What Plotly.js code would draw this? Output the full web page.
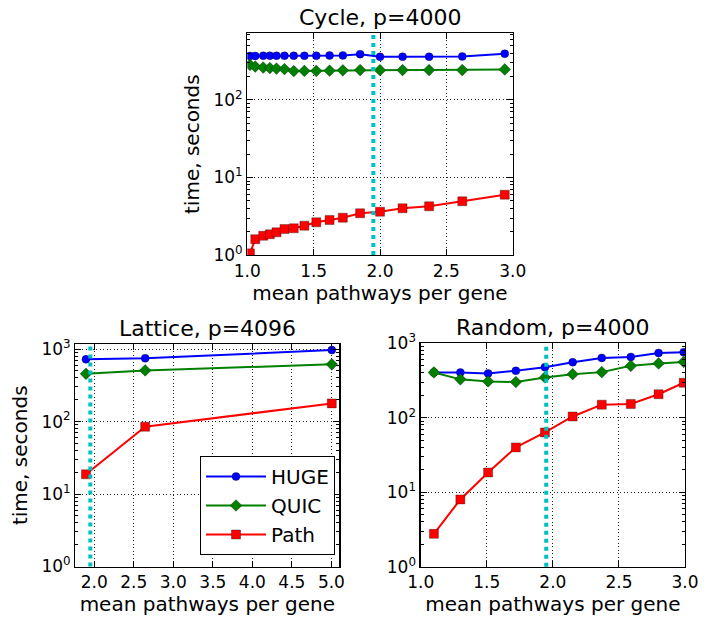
<!DOCTYPE html>
<html><head><meta charset="utf-8">
<script src="https://cdn.plot.ly/plotly-3.0.1.min.js"></script>
<style>body{margin:0;background:#fff}#chart{width:709px;height:623px}</style>
</head><body><div id="chart"></div>
<script>
const seriesNames = ['HUGE', 'QUIC', 'Path'];
const threshold = [1.95];

// Cycle, p=4000
const cycleX = [1.02,1.06,1.12,1.17,1.22,1.28,1.35,1.43,1.52,1.62,1.72,1.85,2.0,2.17,2.37,2.62,2.94];
const cycleHUGE = [370,370,372,372,372,372,372,372,372,375,376,390,360,362,362,365,395];
const cycleQUIC = [283,270,262,258,254,250,236,237,237,239,241,243,242,243,243,243,248];
const cyclePath = [1.05,1.6,1.77,1.85,1.96,2.16,2.21,2.39,2.64,2.83,3.03,3.45,3.62,4.01,4.25,4.93,6.0];

// Lattice, p=4096
const latticeX = [1.895, 2.644, 5.005];
const latticeHUGE = [721, 745, 968];
const latticeQUIC = [456, 508, 615];
const latticePath = [18.7, 84.8, 178];

// Random, p=4000
const randomX = [1.10,1.30,1.51,1.72,1.94,2.15,2.37,2.59,2.80,2.99];
const randomHUGE = [406,406,394,427,478,557,637,656,742,759];
const randomQUIC = [406,328,308,302,348,385,410,498,536,563];
const randomPath = [2.76,8.0,18.4,40,63.5,104,150,153,207,295];

const titles = ['Cycle, p=4000', 'Lattice, p=4096', 'Random, p=4000'];
const xTitle = 'mean pathways per gene';
const yTitle = 'time, seconds';
const yMajor = [1, 10, 100, 1000];
const yMajorText = ['10<sup>0</sup>', '10<sup>1</sup>', '10<sup>2</sup>', '10<sup>3</sup>'];
const yMinor = [2,3,4,5,6,7,8,9,20,30,40,50,60,70,80,90,200,300,400,500,600,700,800,900,2000];

const colors = ['#0000FF', '#008000', '#FF0000'];
const symbols = ['circle', 'diamond', 'square'];
const FONT = 'DejaVu Sans, sans-serif';

const panels = [
  {x: cycleX, ys: [cycleHUGE, cycleQUIC, cyclePath], xa: 'x', ya: 'y', legend: false},
  {x: latticeX, ys: [latticeHUGE, latticeQUIC, latticePath], xa: 'x2', ya: 'y2', legend: true},
  {x: randomX, ys: [randomHUGE, randomQUIC, randomPath], xa: 'x3', ya: 'y3', legend: false}
];

const traces = [];
panels.forEach(p => {
  p.ys.forEach((y, i) => {
    traces.push({
      type: 'scatter', mode: 'lines+markers', x: p.x, y: y,
      xaxis: p.xa, yaxis: p.ya, name: seriesNames[i], showlegend: p.legend,
      line: {color: colors[i], width: 2},
      marker: {color: colors[i], symbol: symbols[i], size: i === 0 ? 8 : 9,
               line: {color: 'rgba(0,0,0,0.55)', width: 0.6}}
    });
  });
});

function xAxis(domain, range, anchor) {
  return {
    domain: domain, range: range, anchor: anchor,
    tickmode: 'linear', tick0: 0, dtick: 0.5, tickformat: '.1f',
    ticks: 'inside', ticklen: 6, tickcolor: '#000', mirror: 'ticks',
    showline: true, linecolor: '#000', linewidth: 1.3,
    showgrid: true, gridcolor: '#222', griddash: '1px,2.5px', gridwidth: 1,
    zeroline: false,
    tickfont: {family: FONT, size: 17, color: '#000'},
    title: {text: xTitle, font: {family: FONT, size: 20, color: '#000'}, standoff: 4},
    automargin: false
  };
}
function yAxis(domain, range, anchor, withTitle) {
  const a = {
    domain: domain, range: range, anchor: anchor, type: 'log',
    tickmode: 'array', tickvals: yMajor, ticktext: yMajorText,
    ticks: 'inside', ticklen: 6, tickcolor: '#000', mirror: 'ticks',
    minor: {tickmode: 'array', tickvals: yMinor, ticks: 'inside', ticklen: 3, tickcolor: '#000', showgrid: false},
    showline: true, linecolor: '#000', linewidth: 1.3,
    showgrid: true, gridcolor: '#222', griddash: '1px,2.5px', gridwidth: 1,
    zeroline: false,
    tickfont: {family: FONT, size: 17, color: '#000'},
    automargin: false
  };
  if (withTitle) a.title = {text: yTitle, font: {family: FONT, size: 20, color: '#000'}, standoff: 8};
  return a;
}

const dom = {
  top:  {x: [247.3/709, 512.7/709], y: [1 - 255/623, 1 - 33.3/623]},
  left: {x: [75.3/709, 339.3/709], y: [1 - 566.5/623, 1 - 344/623]},
  right:{x: [420.7/709, 685/709], y: [1 - 566.7/623, 1 - 343.3/623]}
};

const shapes = [['x','y'],['x2','y2'],['x3','y3']].map(([xa, ya]) => ({
  type: 'line', xref: xa, yref: ya + ' domain', x0: threshold[0], x1: threshold[0], y0: 0, y1: 1,
  line: {color: '#00BFBF', width: 4, dash: 'dot'}, layer: 'above'
}));

const doms = [dom.top, dom.left, dom.right];
const annotations = titles.map((t, i) => ({
  text: t, xref: 'paper', yref: 'paper',
  x: (doms[i].x[0] + doms[i].x[1]) / 2, y: doms[i].y[1], yshift: 1,
  xanchor: 'center', yanchor: 'bottom', showarrow: false,
  font: {family: FONT, size: 22, color: '#000'}
}));

const layout = {
  width: 709, height: 623, margin: {l: 0, r: 0, t: 0, b: 0},
  paper_bgcolor: '#fff', plot_bgcolor: '#fff',
  font: {family: FONT, color: '#000'},
  xaxis: xAxis(dom.top.x, [1.0, 3.0], 'y'),
  yaxis: yAxis(dom.top.y, [0, 2.86], 'x', true),
  xaxis2: xAxis(dom.left.x, [1.76, 5.1], 'y2'),
  yaxis2: yAxis(dom.left.y, [0, 3.07], 'x2', true),
  xaxis3: xAxis(dom.right.x, [1.0, 3.0], 'y3'),
  yaxis3: yAxis(dom.right.y, [0, 3], 'x3', false),
  shapes: shapes, annotations: annotations,
  showlegend: true,
  legend: {x: 335/709, y: 1 - 555/623, xanchor: 'right', yanchor: 'bottom',
           bgcolor: '#fff', bordercolor: '#000', borderwidth: 1,
           font: {family: FONT, size: 20, color: '#000'}, itemwidth: 60, tracegroupgap: 6}
};

Plotly.newPlot('chart', traces, layout, {displayModeBar: false, staticPlot: true});
</script></body></html>
